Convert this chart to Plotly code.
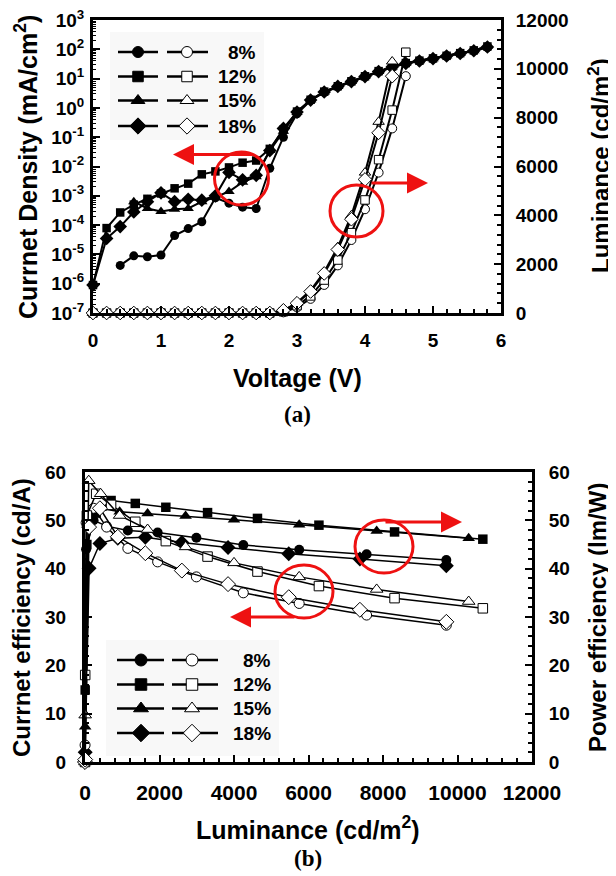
import plotly.graph_objects as go

W, H = 616, 876
OFF = 8  # the page body margin shifts the figure by this many pixels
FONT = "Liberation Sans"

# ---------------- data: panel (a) ----------------
volt = [0.0, 0.2, 0.4, 0.6, 0.8, 1.0, 1.2, 1.4, 1.6, 1.8,
        2.0, 2.2, 2.4, 2.6, 2.8, 3.0, 3.2, 3.4, 3.6, 3.8,
        4.0, 4.2, 4.4, 4.6, 4.8, 5.0, 5.2, 5.4, 5.6, 5.8]

# current density, mA/cm2 (None = not plotted)
j_8 = [None, None, 4.2e-6, 8.9e-6, 8.3e-6, 9.5e-6, 4.4e-5, 7.6e-5, 1.3e-4, 8.5e-4,
       5.6e-4, 4.1e-4, 3.7e-4, 8.7e-3, 1.0e-1, 0.63, 1.8, 3.4, 5.3, 7.8,
       11.5, 17.0, 25.0, 33.0, 40.0, 47.0, 58.0, 71.0, 88.0, 115.0]
j_12 = [9.0e-7, 7.9e-5, 2.7e-4, 5.0e-4, 7.9e-4, 1.2e-3, 1.8e-3, 2.6e-3, 5.4e-3, 6.8e-3,
        9.3e-3, 1.35e-2, 1.6e-2, 4.0e-2, 0.18, 0.75, 1.9, 3.6, 5.5, 8.1,
        12.0, 18.0, 26.0, 34.0, 41.0, 49.0, 60.0, 74.0, 92.0, 125.0]
j_15 = [None, None, None, 6.3e-4, 3.7e-4, 2.9e-4, 3.5e-4, 3.7e-4, 6.3e-4, 9.0e-4,
        1.4e-3, 2.9e-3, 4.5e-3, 3.5e-2, 0.16, 0.70, 1.85, 3.5, 5.4, 7.9,
        11.7, 17.4, 25.0, 33.5, 40.5, 48.0, 59.0, 73.0, 90.0, 130.0]
j_18 = [9.0e-7, 3.5e-5, 8.9e-5, 2.8e-4, 6.3e-4, 1.26e-3, 6.3e-4, 7.6e-4, 7.1e-4, 1.0e-3,
        6.3e-3, 3.5e-3, 5.0e-3, 3.5e-2, 0.20, 0.72, 1.85, 3.5, 5.4, 7.9,
        11.7, 17.4, 25.0, 33.0, 40.0, 48.0, 59.0, 72.0, 89.0, 120.0]

# luminance, cd/m2
lum_8 = [0, 0, 0, 0, 0, 0, 0, 0, 0, 0, 0, 0, 0, 0,
         30, 230, 580, 1150, 1950, 2990, 4250, 5750, 7560, 9700]
lum_12 = [0, 0, 0, 0, 0, 0, 0, 0, 0, 0, 0, 0, 0, 0,
          50, 300, 700, 1350, 2170, 3290, 4630, 6280, 8310, 10680]
lum_15 = [0, 0, 0, 0, 0, 0, 0, 0, 0, 0, 0, 0, 0, 0,
          100, 420, 930, 1680, 2700, 4000, 5750, 7830, 10300]
lum_18 = [0, 0, 0, 0, 0, 0, 0, 0, 0, 0, 0, 0, 0, 0,
          110, 400, 880, 1620, 2600, 3840, 5470, 7380, 9700]

# ---------------- data: panel (b) ----------------
lb_8 = [0, 2, 30, 230, 580, 1150, 1950, 2990, 4250, 5750, 7560, 9700]
ce_8 = [0, 2.0, 44.0, 50.0, 48.8, 47.9, 47.5, 46.4, 44.9, 43.9, 43.0, 41.8]
pe_8 = [0, 3.5, 49.5, 52.5, 48.6, 44.2, 41.4, 38.3, 35.0, 32.8, 30.4, 28.3]

lb_12 = [0, 5, 50, 300, 700, 1350, 2170, 3290, 4630, 6280, 8310, 10680]
ce_12 = [0, 14.9, 45.0, 51.5, 54.1, 53.5, 52.7, 51.6, 50.4, 49.0, 47.6, 46.1]
pe_12 = [0, 18.0, 51.0, 55.5, 53.2, 49.7, 45.7, 42.5, 39.4, 36.4, 33.9, 31.8]

lb_15 = [0, 5, 100, 420, 930, 1680, 2700, 4000, 5750, 7830, 10300]
ce_15 = [0, 7.3, 51.0, 52.5, 51.8, 51.4, 50.9, 50.1, 49.1, 47.8, 46.3]
pe_15 = [0, 9.7, 58.2, 55.5, 51.0, 48.1, 44.5, 41.2, 38.3, 35.7, 33.2]

lb_18 = [0, 5, 110, 400, 880, 1620, 2600, 3840, 5470, 7380, 9700]
ce_18 = [0, 2.0, 40.1, 45.2, 46.3, 46.5, 45.4, 44.4, 43.1, 42.0, 40.6]
pe_18 = [0, 0.5, 48.6, 52.5, 46.6, 43.2, 39.6, 36.8, 34.1, 31.5, 29.0]

labels = ["8%", "12%", "15%", "18%"]
symbols = ["circle", "square", "triangle-up", "diamond"]
msize_a = [9, 8.5, 10, 10.5]
msize_b = [10, 9.5, 11, 11.5]


def px(x):
    return (x - OFF) / W


def py(y):
    return 1 - (y - OFF) / H


fig = go.Figure()

# panel (a)
j_series = [j_8, j_12, j_15, j_18]
lum_series = [lum_8, lum_12, lum_15, lum_18]
for i in range(4):
    fig.add_trace(go.Scatter(
        x=volt, y=j_series[i], mode="lines+markers", xaxis="x", yaxis="y",
        line=dict(color="black", width=2), cliponaxis=False, connectgaps=False,
        marker=dict(symbol=symbols[i], size=msize_a[i], color="black"),
        showlegend=False,
    ))
for i in range(4):
    fig.add_trace(go.Scatter(
        x=volt[:len(lum_series[i])], y=lum_series[i], mode="lines+markers",
        xaxis="x", yaxis="y2", line=dict(color="black", width=2), cliponaxis=False,
        marker=dict(symbol=symbols[i], size=msize_a[i], color="white",
                    line=dict(color="black", width=1)),
        showlegend=False,
    ))

# panel (b)
lb_series = [lb_8, lb_12, lb_15, lb_18]
ce_series = [ce_8, ce_12, ce_15, ce_18]
pe_series = [pe_8, pe_12, pe_15, pe_18]
for i in range(4):
    fig.add_trace(go.Scatter(
        x=lb_series[i], y=ce_series[i], mode="lines+markers", xaxis="x2", yaxis="y3",
        line=dict(color="black", width=1.5), cliponaxis=False,
        marker=dict(symbol=symbols[i], size=msize_b[i], color="black"),
        showlegend=False,
    ))
for i in range(4):
    fig.add_trace(go.Scatter(
        x=lb_series[i], y=pe_series[i], mode="lines+markers", xaxis="x2", yaxis="y4",
        line=dict(color="black", width=1.5), cliponaxis=False,
        marker=dict(symbol=symbols[i], size=msize_b[i], color="white",
                    line=dict(color="black", width=1)),
        showlegend=False,
    ))

# hand-drawn style legends (pixel overlay axis)
shapes = []
annotations = []
legend_boxes = [
    dict(x0=110, x1=264, y0=32, y1=140, rows=[52, 76.5, 100.5, 126], f=(118, 138, 158), o=(167, 187, 208), tx=258, ms=msize_a),
    dict(x0=106, x1=279, y0=640, y1=756, rows=[660, 684.5, 708.5, 733], f=(117, 141, 164), o=(172, 192, 218), tx=273, ms=msize_b),
]
for box in legend_boxes:
    shapes.append(dict(type="rect", xref="paper", yref="paper", layer="below",
                       x0=px(box["x0"]), x1=px(box["x1"]), y0=py(box["y1"]), y1=py(box["y0"]),
                       fillcolor="#f8f8f8", line=dict(width=0)))
    for i, r in enumerate(box["rows"]):
        for seg, fill in ((box["f"], "black"), (box["o"], "white")):
            fig.add_trace(go.Scatter(
                x=[seg[0] - OFF, seg[2] - OFF], y=[r - OFF, r - OFF], mode="lines",
                xaxis="x3", yaxis="y5",
                line=dict(color="black", width=2.5), showlegend=False, hoverinfo="skip"))
            fig.add_trace(go.Scatter(
                x=[seg[1] - OFF], y=[r - OFF], mode="markers", xaxis="x3", yaxis="y5",
                marker=dict(symbol=symbols[i], size=box["ms"][i] + 2, color=fill,
                            line=dict(color="black", width=1)),
                showlegend=False, hoverinfo="skip"))
        annotations.append(dict(x=px(box["tx"]), y=py(r), xref="paper", yref="paper",
                                text=labels[i], showarrow=False, xanchor="right", yanchor="middle",
                                font=dict(family=FONT, size=19, weight="bold", color="black")))

# red circles
for cx, cy, rx, ry in [(241.5, 178.5, 27, 26.5), (356.5, 211, 26.5, 26),
                       (384, 546.5, 29, 26.5), (304, 591.5, 29, 26.5)]:
    shapes.append(dict(type="circle", xref="paper", yref="paper",
                       x0=px(cx - rx), x1=px(cx + rx), y0=py(cy + ry), y1=py(cy - ry),
                       line=dict(color="#ee1111", width=3)))

# red arrows (tip, tail)
for tip, tail in [((173, 154.5), (254, 154.5)), ((428, 183), (370, 183)),
                  ((462, 522), (384, 522)), ((230, 617), (296, 617))]:
    annotations.append(dict(x=px(tip[0]), y=py(tip[1]), xref="paper", yref="paper",
                            ax=tail[0] - tip[0], ay=tail[1] - tip[1], axref="pixel", ayref="pixel",
                            showarrow=True, arrowhead=2, arrowsize=1.4, arrowwidth=3,
                            arrowcolor="#ee1111", text=""))


# titles
def title(text, x, y, size=25, angle=0, family=FONT):
    annotations.append(dict(x=px(x), y=py(y), xref="paper", yref="paper", text=text,
                            showarrow=False, textangle=angle, xanchor="center", yanchor="middle",
                            font=dict(family=family, size=size, weight="bold", color="black")))


title("Currnet Density (mA/cm<sup>2</sup>)", 26, 167, angle=-90)
title("Luminance (cd/m<sup>2</sup>)", 599, 166, size=24, angle=-90)
title("Voltage (V)", 297, 378)
title("(a)", 297, 414, size=23, family="Liberation Serif")
title("Currnet efficiency (cd/A)", 21, 618, size=24, angle=-90)
title("Power efficiency (lm/W)", 597, 618, size=24, angle=-90)
title("Luminance (cd/m<sup>2</sup>)", 308, 828)
title("(b)", 308, 858, size=23, family="Liberation Serif")

tickfont = dict(family=FONT, size=19, weight="bold", color="black")
common = dict(showgrid=False, zeroline=False, showline=True, linecolor="black", linewidth=3,
              ticks="inside", ticklen=7, tickwidth=2, tickcolor="black", tickfont=tickfont,
              automargin=False, tickformat="d", ticklabeloverflow="allow")
minor_lin = dict(ticks="inside", ticklen=4, tickwidth=1.5, tickcolor="black")

log_minor = [m * 10.0 ** k for k in range(-7, 3) for m in range(2, 10)]

fig.update_layout(
    template="none",
    width=W, height=H, margin=dict(l=0, r=0, t=0, b=0, pad=0),
    paper_bgcolor="white", plot_bgcolor="rgba(0,0,0,0)", showlegend=False,
    xaxis=dict(domain=[px(93), px(501)], range=[0, 6], dtick=1, anchor="y", mirror=True,
               minor=dict(dtick=0.2, **minor_lin), ticklabelstandoff=8, **common),
    yaxis=dict(domain=[py(313), py(20)], type="log", range=[-7.0005, 3.0005], anchor="x",
               tickmode="array", tickvals=[10.0 ** k for k in range(-7, 4)],
               ticktext=["10<sup>%d</sup>" % k for k in range(-7, 4)],
               minor=dict(tickmode="array", tickvals=log_minor, ticks="inside", ticklen=3,
                          tickwidth=1, tickcolor="black"),
               ticklabelstandoff=2, **common),
    yaxis2=dict(domain=[py(313), py(20)], overlaying="y", side="right", anchor="x",
                range=[0, 12000], dtick=2000, minor=dict(dtick=400, **minor_lin),
                ticklabelstandoff=8, **common),
    xaxis2=dict(domain=[px(85), px(532)], range=[0, 12000], dtick=2000, anchor="y3", mirror=True,
                minor=dict(dtick=400, **minor_lin), ticklabelstandoff=10,
                **{**common, "tickfont": dict(tickfont, size=21)}),
    yaxis3=dict(domain=[py(762), py(472)], range=[0, 60], dtick=10, anchor="x2",
                minor=dict(dtick=2, **minor_lin), ticklabelstandoff=12, **common),
    yaxis4=dict(domain=[py(762), py(472)], range=[0, 60], dtick=10, overlaying="y3", side="right",
                anchor="x2", minor=dict(dtick=2, **minor_lin), ticklabelstandoff=10, **common),
    xaxis3=dict(domain=[0, 1], range=[0, W], visible=False, anchor="y5", fixedrange=True,
                automargin=False),
    yaxis5=dict(domain=[0, 1], range=[H, 0], visible=False, anchor="x3", fixedrange=True,
                automargin=False),
    shapes=shapes, annotations=annotations,
)

fig.write_html("out.html")
